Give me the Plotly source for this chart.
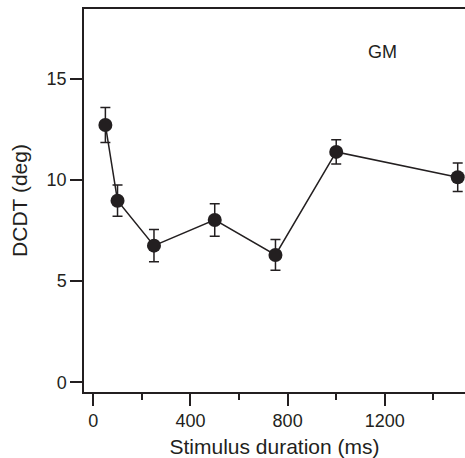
import plotly.graph_objects as go

durations = [50, 100, 250, 500, 750, 1000, 1500]
dcdt = [12.71, 8.97, 6.75, 8.02, 6.29, 11.38, 10.13]
err = [0.87, 0.77, 0.8, 0.8, 0.76, 0.6, 0.7]
x_ticks = [0, 400, 800, 1200]
y_ticks = [0, 5, 10, 15]
minor_x = [200, 600, 1000, 1400]

ink = "#231f20"
fnt = "Liberation Sans, Arial, sans-serif"

fig = go.Figure()
fig.add_trace(go.Scatter(
    x=durations, y=dcdt, mode="lines+markers",
    line=dict(color=ink, width=1.5),
    marker=dict(color=ink, size=14),
    error_y=dict(type="data", array=err, visible=True, color=ink, thickness=1.5, width=5),
    showlegend=False,
))

fig.add_annotation(x=1191, y=16.33, text="GM", showarrow=False,
                   font=dict(family=fnt, size=18, color=ink))

fig.update_layout(
    width=465, height=458,
    margin=dict(l=84, r=0, t=9, b=66),
    paper_bgcolor="white", plot_bgcolor="white",
    font=dict(family=fnt, color=ink),
    xaxis=dict(
        range=[-38, 1530], tickvals=x_ticks, ticktext=[str(v) for v in x_ticks],
        ticks="outside", ticklen=12, tickwidth=1.5, tickcolor=ink,
        showline=True, linecolor=ink, linewidth=1.5, mirror=True,
        showgrid=False, zeroline=False,
        tickfont=dict(size=18, color=ink),
        minor=dict(tickvals=minor_x, ticks="outside", ticklen=6, tickwidth=1.5, tickcolor=ink, showgrid=False),
        title=dict(text="Stimulus duration (ms)", font=dict(size=21, color=ink), standoff=10),
    ),
    yaxis=dict(
        range=[-0.48, 18.44], tickvals=y_ticks,
        ticks="outside", ticklen=12, tickwidth=1.5, tickcolor=ink,
        showline=True, linecolor=ink, linewidth=1.5,
        showgrid=False, zeroline=False,
        tickfont=dict(size=18, color=ink),
        title=dict(text="DCDT (deg)", font=dict(size=21, color=ink), standoff=13),
    ),
)

fig.write_html("out.html", config={"displayModeBar": False},
               post_script="document.body.style.margin='0';document.body.style.overflow='hidden';")
